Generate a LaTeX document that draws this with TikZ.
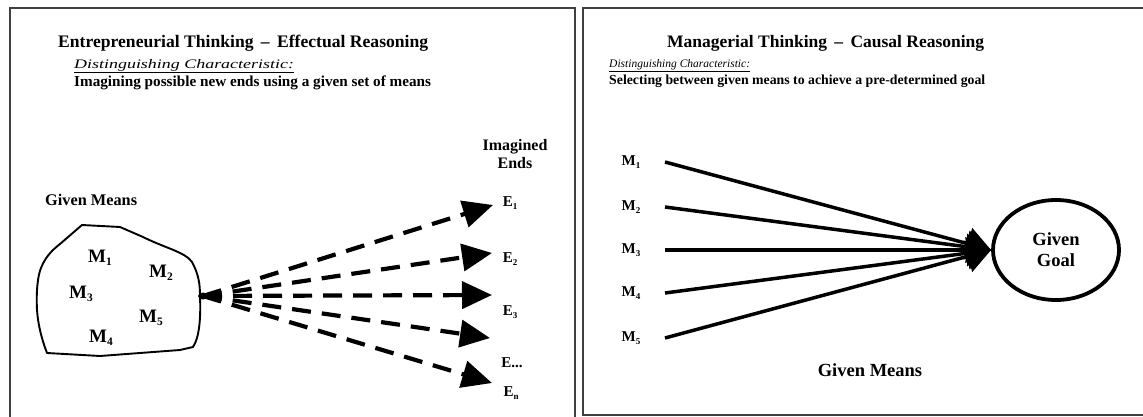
\documentclass[tikz,border=0pt]{standalone}
\usepackage{fontspec}
\setmainfont{Liberation Serif}
\usetikzlibrary{arrows.meta,shapes.geometric}
\newcommand{\lowsub}[1]{\raisebox{-0.35ex}{\scalebox{0.6}{#1}}}
\tikzset{
  frame/.style={draw=black!75, line width=2.5pt},
  lbl/.style={inner sep=0pt, font=\bfseries},
  lefttxt/.style={inner sep=0pt, anchor=west},
  fanarrow/.style={line width=4.2pt, dash pattern=on 19pt off 11pt,
    -{Triangle[length=30pt,width=27pt]}},
  meanline/.style={line width=3.5pt, -{Triangle[length=24pt,width=32pt]}},
}
\begin{document}
\begin{tikzpicture}[x=1pt,y=-1pt]
\useasboundingbox (0,0) rectangle (1143,417);
\fill[white] (0,0) rectangle (1143,417);

% panel frames
\draw[frame] (10,440) -- (10,8) -- (575,8) -- (575,440);
\draw[frame] (1160,415) -- (583,415) -- (583,8) -- (1160,8);

% ---------- effectual reasoning ----------
\node[lefttxt, font=\fontsize{17.6}{20}\selectfont\bfseries] (t1) at (58,43)
  {Entrepreneurial Thinking \,--\, Effectual Reasoning};
\node[lefttxt, font=\fontsize{13}{15}\selectfont\itshape] (d1) at (74,66)
  {\scalebox{1.38}[1]{\underline{Distinguishing Characteristic:}}};
\node[lefttxt, font=\fontsize{15.2}{17}\selectfont\bfseries] (s1) at (74,83)
  {Imagining possible new ends using a given set of means};

\node[lefttxt, font=\fontsize{16.3}{18}\selectfont\bfseries] (gm1) at (45,200) {Given Means};

% the set of given means
\draw[line width=1.9pt, line join=round]
  (82,225) -- (120,227) -- (143,237) .. controls (165,248) and (185,252) .. (192,262)
  .. controls (199,275) and (200,285) .. (200,296)
  .. controls (201,320) and (199,338) .. (193,347) -- (180,350)
  -- (100,356) -- (47,353) .. controls (42,340) and (38,325) .. (37,310)
  .. controls (36,290) and (38,275) .. (41,268) .. controls (46,255) and (55,248) .. (60,244)
  -- (82,225) -- cycle;

\node[lbl, font=\fontsize{19}{21}\selectfont\bfseries] (m1) at (100,258) {M\lowsub{1}};
\node[lbl, font=\fontsize{19}{21}\selectfont\bfseries] (m2) at (161,273) {M\lowsub{2}};
\node[lbl, font=\fontsize{19}{21}\selectfont\bfseries] (m3) at (81,294) {M\lowsub{3}};
\node[lbl, font=\fontsize{19}{21}\selectfont\bfseries] (m5) at (151,318) {M\lowsub{5}};
\node[lbl, font=\fontsize{19}{21}\selectfont\bfseries] (m4) at (101,338) {M\lowsub{4}};

\node[lbl, font=\fontsize{16}{18}\selectfont\bfseries, align=center] (ie) at (515,154)
  {Imagined\\Ends};

\coordinate (src) at (203,296);
\fill (src) ellipse (5pt and 3.5pt);
\coordinate (a1) at (493,205);
\coordinate (a2) at (492,253);
\coordinate (a3) at (492,295);
\coordinate (a4) at (490,338);
\coordinate (a5) at (492,383);
\foreach \i in {1,...,5} \draw[fanarrow] (src) -- (a\i);

\node[lbl, font=\fontsize{15}{17}\selectfont\bfseries] (e1) at (510,203) {E\lowsub{1}};
\node[lbl, font=\fontsize{15}{17}\selectfont\bfseries] (e2) at (510,259) {E\lowsub{2}};
\node[lbl, font=\fontsize{15}{17}\selectfont\bfseries] (e3) at (510,312) {E\lowsub{3}};
\node[lbl, font=\fontsize{15}{17}\selectfont\bfseries] (e4) at (512,363) {E...};
\node[lbl, font=\fontsize{15}{17}\selectfont\bfseries] (e5) at (511,393) {E\lowsub{n}};

% ---------- causal reasoning ----------
\node[lefttxt, font=\fontsize{17.5}{20}\selectfont\bfseries] (t2) at (667,43)
  {Managerial Thinking \,--\, Causal Reasoning};
\node[lefttxt, font=\fontsize{11.5}{13}\selectfont\itshape] (d2) at (609,66)
  {\underline{Distinguishing Characteristic:}};
\node[lefttxt, font=\fontsize{13.8}{16}\selectfont\bfseries] (s2) at (609,81)
  {Selecting between given means to achieve a pre-determined goal};

\node[ellipse, draw, line width=3.8pt, minimum width=126pt, minimum height=100pt,
  font=\fontsize{18.5}{21}\selectfont\bfseries, align=center, inner sep=0pt] (goal) at (1056,250)
  {Given\\Goal};

\foreach \i/\y in {1/162,2/207,3/250,4/293,5/338} {
  \node[lbl, font=\fontsize{15}{17}\selectfont\bfseries] (r\i) at (631,\y) {M\lowsub{\i}};
  \coordinate (q\i) at (665,\y);
  \draw[meanline] (q\i) -- (goal.west);
}

\node[lbl, font=\fontsize{18.5}{21}\selectfont\bfseries] (gm2) at (870,370) {Given Means};
\end{tikzpicture}
\end{document}
